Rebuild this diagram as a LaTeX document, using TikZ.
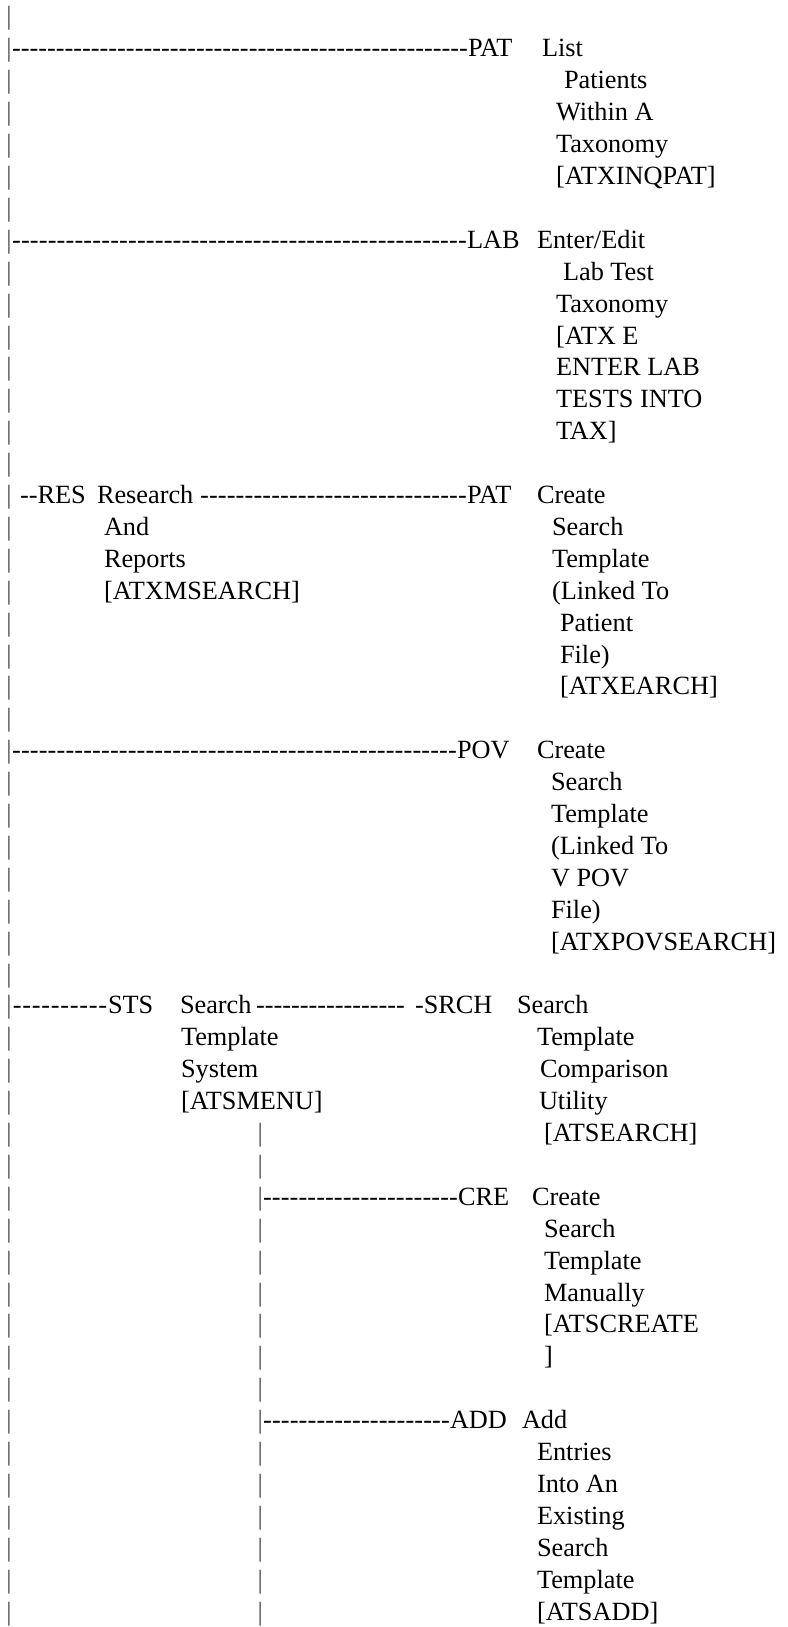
\documentclass[tikz,border=0pt]{standalone}
\usepackage{fontspec}
\setmainfont{Liberation Serif}
\newcommand\dashfill[1]{\hbox to #1pt{\xleaders\hbox{-}\hfill}}
\tikzset{
  txt/.style={anchor=base west, inner sep=0pt, outer sep=0pt,
    font=\fontsize{26.3}{31.9}\selectfont, text=black},
  bar/.style={txt, text=black!70}
}
\begin{document}
\begin{tikzpicture}[x=1pt,y=-1pt]
\path[use as bounding box, fill=white] (0,0) rectangle (787,1627);
% left vertical bar, every line
\foreach \k in {0,...,50} \node[bar] (lb\k) at (6.4,{25+31.9*\k}) {|};
% inner vertical bar
\foreach \k in {35,...,50} \node[bar] (ib\k) at (257.5,{25+31.9*\k}) {|};

% Row 1 PAT List
\node[txt] (d1) at (12,{25+31.9*1}) {\dashfill{456}};
\node[txt] (pat1) at (468,{25+31.9*1}) {PAT};
\node[txt] (pat1a) at (542,{25+31.9*1}) {List};
\node[txt] (pat1b) at (564,{25+31.9*2}) {Patients};
\node[txt] (pat1c) at (556,{25+31.9*3}) {Within A};
\node[txt] (pat1d) at (556,{25+31.9*4}) {Taxonomy};
\node[txt] (pat1e) at (556,{25+31.9*5}) {[ATXINQPAT]};

% Row 7 LAB
\node[txt] (d7) at (12,{25+31.9*7}) {\dashfill{455}};
\node[txt] (lab) at (467,{25+31.9*7}) {LAB};
\node[txt] (laba) at (537,{25+31.9*7}) {Enter/Edit};
\node[txt] (labb) at (563,{25+31.9*8}) {Lab Test};
\node[txt] (labc) at (556,{25+31.9*9}) {Taxonomy};
\node[txt] (labd) at (556,{25+31.9*10}) {[ATX E};
\node[txt] (labe) at (556,{25+31.9*11}) {ENTER LAB};
\node[txt] (labf) at (556,{25+31.9*12}) {TESTS INTO};
\node[txt] (labg) at (556,{25+31.9*13}) {TAX]};

% Row 15 RES
\node[txt] (res) at (20,{25+31.9*15}) {-{}-RES};
\node[txt] (resa) at (97,{25+31.9*15}) {Research};
\node[txt] (resb) at (104,{25+31.9*16}) {And};
\node[txt] (resc) at (104,{25+31.9*17}) {Reports};
\node[txt] (resd) at (104,{25+31.9*18}) {[ATXMSEARCH]};
\node[txt] (d15) at (200,{25+31.9*15}) {\dashfill{267}};
\node[txt] (pat2) at (467,{25+31.9*15}) {PAT};
\node[txt] (pat2a) at (537,{25+31.9*15}) {Create};
\node[txt] (pat2b) at (552,{25+31.9*16}) {Search};
\node[txt] (pat2c) at (552,{25+31.9*17}) {Template};
\node[txt] (pat2d) at (552,{25+31.9*18}) {(Linked To};
\node[txt] (pat2e) at (560,{25+31.9*19}) {Patient};
\node[txt] (pat2f) at (560,{25+31.9*20}) {File)};
\node[txt] (pat2g) at (560,{25+31.9*21}) {[ATXEARCH]};

% Row 23 POV
\node[txt] (d23) at (12,{25+31.9*23}) {\dashfill{445}};
\node[txt] (pov) at (457,{25+31.9*23}) {POV};
\node[txt] (pova) at (537,{25+31.9*23}) {Create};
\node[txt] (povb) at (551,{25+31.9*24}) {Search};
\node[txt] (povc) at (551,{25+31.9*25}) {Template};
\node[txt] (povd) at (551,{25+31.9*26}) {(Linked To};
\node[txt] (pove) at (551,{25+31.9*27}) {V POV};
\node[txt] (povf) at (551,{25+31.9*28}) {File)};
\node[txt] (povg) at (551,{25+31.9*29}) {[ATXPOVSEARCH]};

% Row 31 STS
\node[txt] (d31) at (12,{25+31.9*31}) {\dashfill{96}};
\node[txt] (sts) at (108,{25+31.9*31}) {STS};
\node[txt] (stsa) at (180,{25+31.9*31}) {Search};
\node[txt] (stsb) at (181,{25+31.9*32}) {Template};
\node[txt] (stsc) at (181,{25+31.9*33}) {System};
\node[txt] (stsd) at (181,{25+31.9*34}) {[ATSMENU]};
\node[txt] (d31b) at (256,{25+31.9*31}) {\dashfill{149}};
\node[txt] (srch) at (415,{25+31.9*31}) {-SRCH};
\node[txt] (srcha) at (517,{25+31.9*31}) {Search};
\node[txt] (srchb) at (537,{25+31.9*32}) {Template};
\node[txt] (srchc) at (540,{25+31.9*33}) {Comparison};
\node[txt] (srchd) at (539,{25+31.9*34}) {Utility};
\node[txt] (srche) at (544,{25+31.9*35}) {[ATSEARCH]};

% Row 37 CRE
\node[txt] (d37) at (263,{25+31.9*37}) {\dashfill{195}};
\node[txt] (cre) at (458,{25+31.9*37}) {CRE};
\node[txt] (crea) at (532,{25+31.9*37}) {Create};
\node[txt] (creb) at (544,{25+31.9*38}) {Search};
\node[txt] (crec) at (544,{25+31.9*39}) {Template};
\node[txt] (cred) at (544,{25+31.9*40}) {Manually};
\node[txt] (cree) at (544,{25+31.9*41}) {[ATSCREATE};
\node[txt] (cref) at (544,{25+31.9*42}) {]};

% Row 44 ADD
\node[txt] (d44) at (263,{25+31.9*44}) {\dashfill{187}};
\node[txt] (add) at (450,{25+31.9*44}) {ADD};
\node[txt] (adda) at (522,{25+31.9*44}) {Add};
\node[txt] (addb) at (537,{25+31.9*45}) {Entries};
\node[txt] (addc) at (537,{25+31.9*46}) {Into An};
\node[txt] (addd) at (537,{25+31.9*47}) {Existing};
\node[txt] (adde) at (537,{25+31.9*48}) {Search};
\node[txt] (addf) at (537,{25+31.9*49}) {Template};
\node[txt] (addg) at (537,{25+31.9*50}) {[ATSADD]};
\end{tikzpicture}
\end{document}
